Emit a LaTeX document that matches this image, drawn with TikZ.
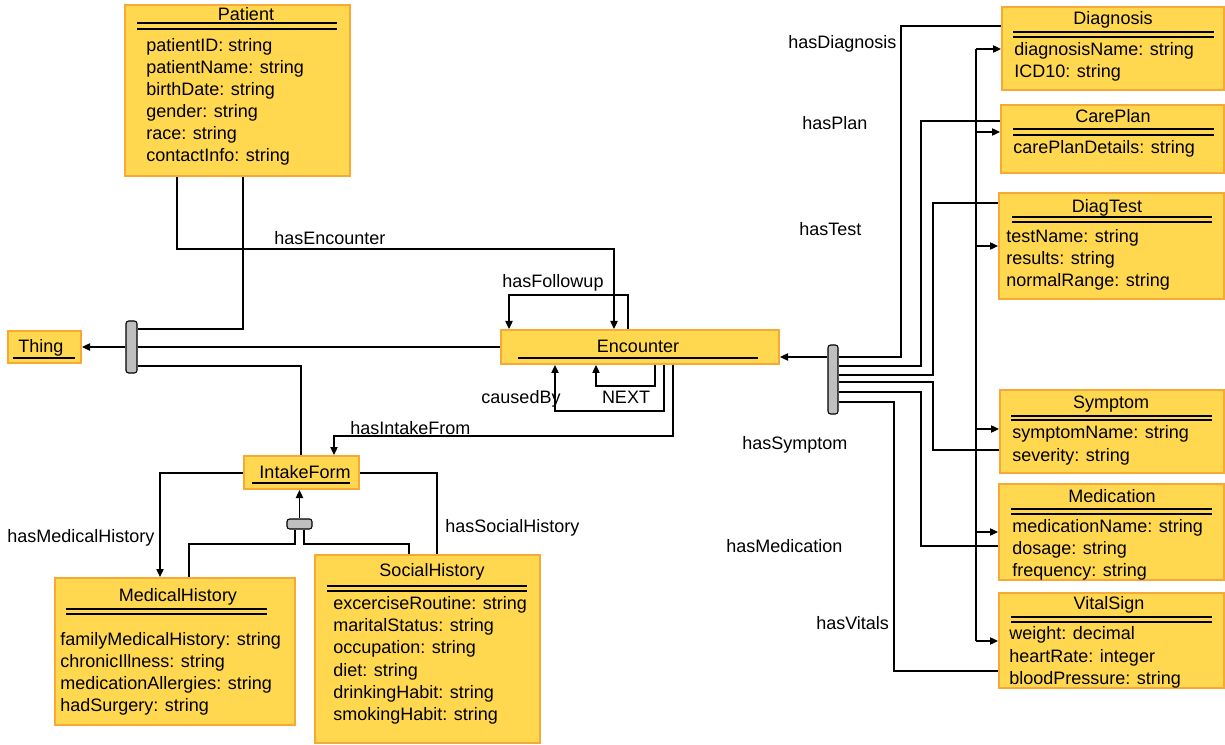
\documentclass[tikz,border=0pt]{standalone}
\usepackage{fontspec}
\setmainfont{Liberation Sans}
\usetikzlibrary{arrows.meta,fit}
\definecolor{boxfill}{RGB}{255,216,79}
\definecolor{boxedge}{RGB}{248,168,52}
\definecolor{bargray}{RGB}{191,191,191}
\begin{document}
\begin{tikzpicture}[x=0.75pt,y=-0.75pt,
 cls/.style={draw=boxedge, line width=1.5pt, fill=boxfill, inner sep=0pt},
 txt/.style={font=\fontsize{13.5}{16}\selectfont, inner sep=0pt, anchor=base west},
 ttl/.style={font=\fontsize{13.5}{16}\selectfont, inner sep=0pt, anchor=base},
 rule/.style={line width=1.3pt},
 conn/.style={line width=0.9pt, black},
 arr/.style={conn, -{Triangle[length=6pt,width=5.5pt]}},
 hub/.style={draw=black, line width=0.8pt, fill=bargray, rounded corners=2pt, inner sep=0pt}]
\path[use as bounding box] (0,0) rectangle (1225,745);

% ---------- Patient ----------
\node[cls, fit={(125,5) (350,176)}] (patient) {};
\node[ttl] (patientT) at (246,21) {Patient};
\draw[rule] (137,23) -- (337,23) (137,29) -- (337,29);
\node[txt] (p1) at (146,52) {patientID: string};
\node[txt] (p2) at (146,74) {patientName: string};
\node[txt] (p3) at (146,96) {birthDate: string};
\node[txt] (p4) at (146,118) {gender: string};
\node[txt] (p5) at (146,140) {race: string};
\node[txt] (p6) at (146,162) {contactInfo: string};

% ---------- Thing ----------
\node[cls, fit={(8,331) (81,363)}] (thing) {};
\node[ttl] (thingT) at (41,353) {Thing};
\draw[rule] (13,358) -- (75,358);

% ---------- Encounter ----------
\node[cls, fit={(501,330) (779,364)}] (enc) {};
\node[ttl] (encT) at (638,353) {Encounter};
\draw[rule] (518,358) -- (758,358);

% ---------- IntakeForm ----------
\node[cls, fit={(244,456) (359,489)}] (intake) {};
\node[ttl] (intakeT) at (305,478) {IntakeForm};
\draw[rule] (252,483) -- (350,483);

% ---------- MedicalHistory ----------
\node[cls, fit={(55,578) (295,725)}] (medh) {};
\node[ttl] (medhT) at (178,601) {MedicalHistory};
\draw[rule] (66,609) -- (267,609) (66,614) -- (267,614);
\node[txt] (m1) at (60,645) {familyMedicalHistory: string};
\node[txt] (m2) at (60,667) {chronicIllness: string};
\node[txt] (m3) at (60,689) {medicationAllergies: string};
\node[txt] (m4) at (60,711) {hadSurgery: string};

% ---------- SocialHistory ----------
\node[cls, fit={(315,555) (540,743)}] (soch) {};
\node[ttl] (sochT) at (432,576) {SocialHistory};
\draw[rule] (327,586) -- (527,586) (327,591) -- (527,591);
\node[txt] (s1) at (333,609) {excerciseRoutine: string};
\node[txt] (s2) at (333,631) {maritalStatus: string};
\node[txt] (s3) at (333,653) {occupation: string};
\node[txt] (s4) at (333,676) {diet: string};
\node[txt] (s5) at (333,698) {drinkingHabit: string};
\node[txt] (s6) at (333,720) {smokingHabit: string};

% ---------- Diagnosis ----------
\node[cls, fit={(1002,7) (1224,90)}] (diag) {};
\node[ttl] (diagT) at (1113,25) {Diagnosis};
\draw[rule] (1013,32) -- (1214,32) (1013,37) -- (1214,37);
\node[txt] (d1) at (1014,56) {diagnosisName: string};
\node[txt] (d2) at (1014,78) {ICD10: string};

% ---------- CarePlan ----------
\node[cls, fit={(1001,105) (1224,173)}] (care) {};
\node[ttl] (careT) at (1113,123) {CarePlan};
\draw[rule] (1013,129) -- (1214,129) (1013,135) -- (1214,135);
\node[txt] (c1) at (1013,154) {carePlanDetails: string};

% ---------- DiagTest ----------
\node[cls, fit={(999,193) (1224,299)}] (test) {};
\node[ttl] (testT) at (1107,213) {DiagTest};
\draw[rule] (1012,217) -- (1212,217) (1012,222) -- (1212,222);
\node[txt] (t1) at (1006,243) {testName: string};
\node[txt] (t2) at (1006,265) {results: string};
\node[txt] (t3) at (1006,287) {normalRange: string};

% ---------- Symptom ----------
\node[cls, fit={(1000,390) (1224,473)}] (symp) {};
\node[ttl] (sympT) at (1111,408) {Symptom};
\draw[rule] (1011,416) -- (1212,416) (1011,420) -- (1212,420);
\node[txt] (y1) at (1012,438) {symptomName: string};
\node[txt] (y2) at (1012,461) {severity: string};

% ---------- Medication ----------
\node[cls, fit={(999,484) (1224,580)}] (med) {};
\node[ttl] (medT) at (1112,502) {Medication};
\draw[rule] (1011,509) -- (1212,509) (1011,514) -- (1212,514);
\node[txt] (e1) at (1012,532) {medicationName: string};
\node[txt] (e2) at (1012,554) {dosage: string};
\node[txt] (e3) at (1012,576) {frequency: string};

% ---------- VitalSign ----------
\node[cls, fit={(999,593) (1224,688)}] (vital) {};
\node[ttl] (vitalT) at (1109,609) {VitalSign};
\draw[rule] (1011,617) -- (1212,617) (1011,622) -- (1212,622);
\node[txt] (v1) at (1009,639) {weight: decimal};
\node[txt] (v2) at (1009,662) {heartRate: integer};
\node[txt] (v3) at (1009,684) {bloodPressure: string};

% ---------- hubs ----------
\node[hub, fit={(126,321) (137,373)}] (barL) {};
\node[hub, fit={(828,345) (838,414)}] (barR) {};
\node[hub, fit={(287,519) (312,529)}] (sbar) {};

% ---------- connectors, left part ----------
\draw[arr] (177,0 |- patient.south) -- (177,249) -- (614,249) -- (614,0 |- enc.north);
\draw[conn] (243,0 |- patient.south) |- (barL.east |- 0,329);
\draw[arr] (barL.west |- 0,347) -- (thing.east |- 0,347);
\draw[conn] (barL.east |- 0,347) -- (enc.west |- 0,347);
\draw[conn] (barL.east |- 0,366) -| (301,0 |- intake.north);
\draw[arr] (628,0 |- enc.north) |- (509,295) -- (509,0 |- enc.north);
\draw[arr] (655,0 |- enc.south) |- (596,386) -- (596,0 |- enc.south);
\draw[arr] (664,0 |- enc.south) |- (555,411) -- (555,0 |- enc.south);
\draw[arr] (673,0 |- enc.south) |- (334,436) -- (334,0 |- intake.north);
\draw[arr] (intake.west |- 0,473) -| (160,0 |- medh.north);
\draw[conn] (intake.east |- 0,473) -| (437,0 |- soch.north);
\draw[arr] (299.5,0 |- sbar.north) -- (299.5,0 |- intake.south);
\draw[conn] (295,0 |- sbar.south) |- (189,544) -- (189,0 |- medh.north);
\draw[conn] (304,0 |- sbar.south) |- (409,544) -- (409,0 |- soch.north);

% ---------- connectors, right part ----------
\draw[arr] (barR.west |- 0,357) -- (enc.east |- 0,357);
\draw[conn] (barR.east |- 0,357) -| (901,26) -- (diag.west |- 0,26);
\draw[conn] (barR.east |- 0,366) -| (921,121) -- (care.west |- 0,121);
\draw[conn] (barR.east |- 0,375) -| (933,203) -- (test.west |- 0,203);
\draw[conn] (barR.east |- 0,382) -| (933,450) -- (symp.west |- 0,450);
\draw[conn] (barR.east |- 0,392) -| (921,546) -- (med.west |- 0,546);
\draw[conn] (barR.east |- 0,402) -| (894,671) -- (vital.west |- 0,671);

\coordinate (vt) at (976,49);
\coordinate (vb) at (976,641);
\draw[conn] (vt) -- (vb);
\draw[arr] (vt) -- (diag.west |- vt);
\draw[arr] (976,132) -- (care.west |- 0,132);
\draw[arr] (976,246) -- (test.west |- 0,246);
\draw[arr] (976,429) -- (symp.west |- 0,429);
\draw[arr] (976,532) -- (med.west |- 0,532);
\draw[arr] (vb) -- (vital.west |- vb);

% ---------- labels ----------
\node[txt] (lEnc) at (274,245) {hasEncounter};
\node[ttl] (lFol) at (553,288) {hasFollowup};
\node[ttl] (lNext) at (626,403) {NEXT};
\node[ttl] (lCause) at (521,403) {causedBy};
\node[txt] (lIntake) at (350,434) {hasIntakeFrom};
\node[txt] (lMedH) at (7,542) {hasMedicalHistory};
\node[txt] (lSocH) at (445,532) {hasSocialHistory};
\node[txt] (lDiag) at (788,49) {hasDiagnosis};
\node[txt] (lPlan) at (802,130) {hasPlan};
\node[txt] (lTest) at (799,236) {hasTest};
\node[txt] (lSymp) at (742,449) {hasSymptom};
\node[txt] (lMed) at (726,552) {hasMedication};
\node[txt] (lVit) at (816,629) {hasVitals};
\end{tikzpicture}
\end{document}
